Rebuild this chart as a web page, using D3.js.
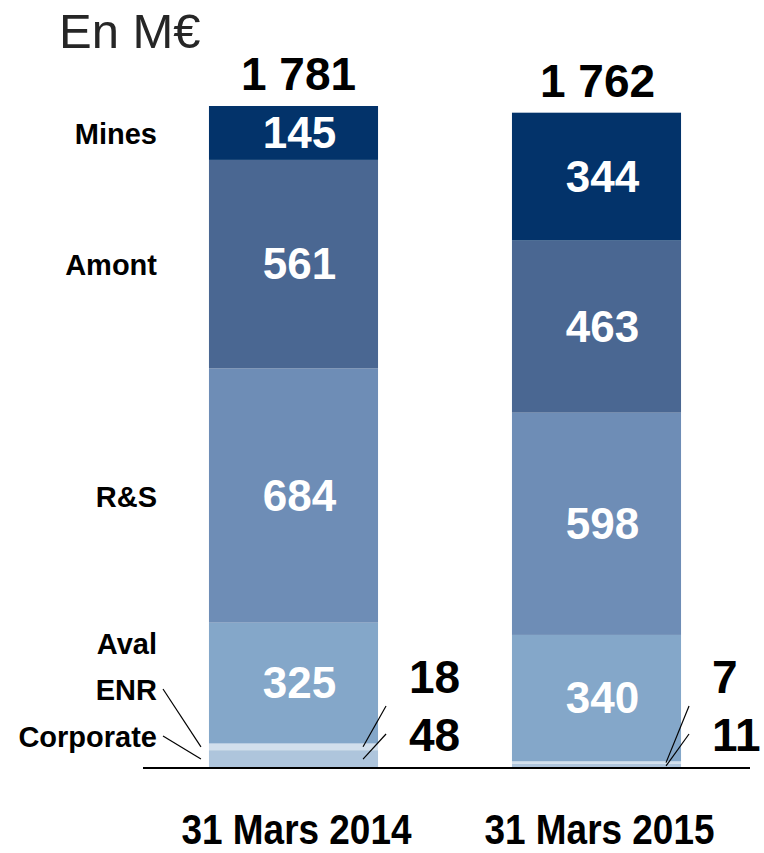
<!DOCTYPE html>
<html><head><meta charset="utf-8">
<script src="https://cdn.jsdelivr.net/npm/d3@7"></script>
<style>
html,body{margin:0;padding:0;background:#fff;}
svg{display:block;}
text{font-family:"Liberation Sans",Arial,sans-serif;}
</style></head>
<body>
<script>
// ---- data ----
const periods = ["31 Mars 2014", "31 Mars 2015"];
const segments = ["Corporate", "ENR", "Aval", "R&S", "Amont", "Mines"];
const values2014 = [48, 18, 325, 684, 561, 145];
const values2015 = [11, 7, 340, 598, 463, 344];
const totals = ["1 781", "1 762"];
const unitLabel = "En M€";

// ---- styles ----
const colors = {
  "Corporate": "#aec5dc",
  "ENR": "#d2dfec",
  "Aval": "#84a7c9",
  "R&S": "#6e8db6",
  "Amont": "#4a6792",
  "Mines": "#03336a"
};

const W = 764, H = 853;
const svg = d3.select("body").append("svg").attr("width", W).attr("height", H);

const x = d3.scaleBand().domain(periods).range([142, 748]).paddingInner(0.442).paddingOuter(0.221);
const y = d3.scaleLinear().domain([0, 1781]).range([768, 106]);

const table = periods.map((p, i) => {
  const vals = i === 0 ? values2014 : values2015;
  const row = {period: p};
  segments.forEach((s, j) => row[s] = vals[j]);
  return row;
});
const stack = d3.stack().keys(segments)(table);

// bars
const layers = svg.append("g").selectAll("g").data(stack).join("g")
  .attr("fill", d => colors[d.key]);
layers.selectAll("rect").data(d => d).join("rect")
  .attr("x", d => x(d.data.period))
  .attr("width", x.bandwidth())
  .attr("y", d => y(d[1]))
  .attr("height", d => y(d[0]) - y(d[1]));

// inside value labels (big segments)
const big = ["Aval", "R&S", "Amont", "Mines"];
stack.filter(l => big.includes(l.key)).forEach(l => {
  svg.append("g").selectAll("text").data(l).join("text")
    .attr("x", d => x(d.data.period) + x.bandwidth() / 2 + 6)
    .attr("y", d => (y(d[0]) + y(d[1])) / 2 + 15)
    .attr("text-anchor", "middle")
    .attr("fill", "#fff")
    .attr("font-weight", "bold")
    .attr("font-size", 44)
    .text(d => d.data[l.key]);
});

// totals
svg.append("g").selectAll("text").data(periods).join("text")
  .attr("x", (p, i) => x(p) + x.bandwidth() / 2 + (i === 0 ? 5 : 1))
  .attr("y", (p, i) => y(d3.sum(i === 0 ? values2014 : values2015)) - 16)
  .attr("text-anchor", "middle")
  .attr("font-weight", "bold")
  .attr("font-size", 46)
  .attr("fill", "#000")
  .text((p, i) => totals[i]);

// baseline
svg.append("line")
  .attr("x1", 143).attr("x2", 750)
  .attr("y1", y(0)).attr("y2", y(0))
  .attr("stroke", "#000").attr("stroke-width", 2);

// category labels on the left
const labelY = {
  "Mines": (y(d3.sum(values2014.slice(0,5))) + y(d3.sum(values2014))) / 2 + 11,
  "Amont": (y(d3.sum(values2014.slice(0,4))) + y(d3.sum(values2014.slice(0,5)))) / 2 + 11,
  "R&S": (y(d3.sum(values2014.slice(0,3))) + y(d3.sum(values2014.slice(0,4)))) / 2 + 11,
  "Aval": 654,
  "ENR": 700,
  "Corporate": 747
};
svg.append("g").selectAll("text").data(segments).join("text")
  .attr("x", 157)
  .attr("y", d => labelY[d])
  .attr("text-anchor", "end")
  .attr("font-weight", "bold")
  .attr("font-size", 29)
  .attr("fill", "#000")
  .text(d => d);

// leader lines and small-segment labels
const small = ["ENR", "Corporate"];
const lines = svg.append("g").attr("stroke", "#000").attr("stroke-width", 1.2);
small.forEach(key => {
  const layer = stack.find(l => l.key === key);
  const k = small.indexOf(key); // 0 = ENR (upper), 1 = Corporate
  const d0 = layer[0];
  const mid0 = (y(d0[0]) + y(d0[1])) / 2;
  lines.append("line")
    .attr("x1", 163).attr("y1", labelY[key] - 11)
    .attr("x2", x(periods[0]) - 8).attr("y2", mid0);
  layer.forEach((d, i) => {
    const mid = (y(d[0]) + y(d[1])) / 2;
    const bx = x(d.data.period) + x.bandwidth();
    lines.append("line")
      .attr("x1", bx + 8).attr("y1", k === 0 ? 706 : 734)
      .attr("x2", bx - 15).attr("y2", mid);
    svg.append("text")
      .attr("x", bx + 31)
      .attr("y", k === 0 ? 693 : 751)
      .attr("font-weight", "bold")
      .attr("font-size", 46)
      .attr("fill", "#000")
      .text(d.data[key]);
  });
});

// unit label
svg.append("text")
  .attr("x", 59).attr("y", 48)
  .attr("font-size", 49)
  .attr("fill", "#262626")
  .text(unitLabel);

// x axis labels (condensed)
svg.append("g").selectAll("text").data(periods).join("text")
  .attr("x", p => x(p) + x.bandwidth() / 2 + 3)
  .attr("y", 844)
  .attr("text-anchor", "middle")
  .attr("font-weight", "bold")
  .attr("font-size", 42)
  .attr("textLength", 230)
  .attr("lengthAdjust", "spacingAndGlyphs")
  .attr("fill", "#000")
  .text(p => p);
</script>
</body></html>
